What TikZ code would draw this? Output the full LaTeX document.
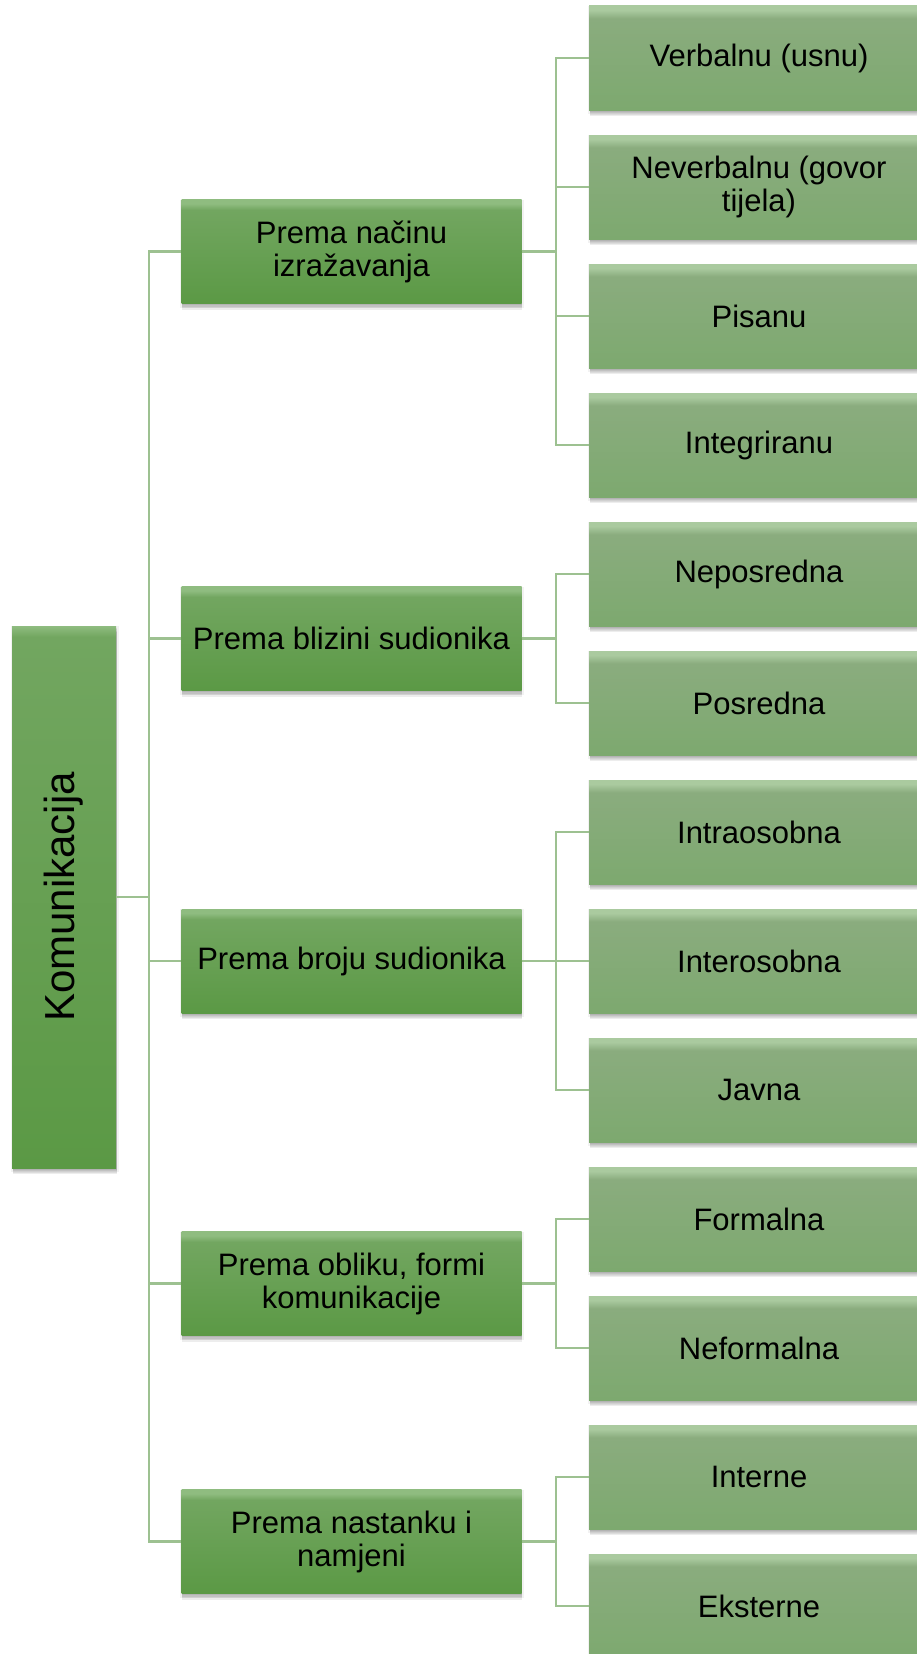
\documentclass[tikz,border=0pt]{standalone}
\usepackage{fontspec}
\setmainfont{Liberation Sans}
\definecolor{lonet}{HTML}{8FBC80}
\definecolor{lonem}{HTML}{72A660}
\definecolor{loneb}{HTML}{5B9945}
\definecolor{ltwot}{HTML}{AACA9F}
\definecolor{ltwom}{HTML}{8AAC7E}
\definecolor{ltwob}{HTML}{7DA96F}
\definecolor{conncol}{HTML}{9DC191}
\pgfdeclareverticalshading{lvlone}{100bp}{color(0bp)=(loneb); color(25bp)=(loneb); color(70bp)=(lonem); color(73bp)=(lonet); color(75bp)=(lonet); color(100bp)=(lonet)}
\pgfdeclareverticalshading{lvlroot}{100bp}{color(0bp)=(loneb); color(25bp)=(loneb); color(74bp)=(lonem); color(75bp)=(lonet); color(100bp)=(lonet)}
\pgfdeclareverticalshading{lvltwo}{100bp}{color(0bp)=(ltwob); color(25bp)=(ltwob); color(69bp)=(ltwom); color(73bp)=(ltwot); color(75bp)=(ltwot); color(100bp)=(ltwot)}
\begin{document}
\begin{tikzpicture}[x=1pt,y=-1pt,
  softshadow/.style={
    preaction={draw=black, line width=4pt, draw opacity=0.05, transform canvas={yshift=-2pt, xshift=0.5pt}},
    preaction={fill=black, fill opacity=0.07, transform canvas={yshift=-6pt, xshift=0.5pt}},
    preaction={fill=black, fill opacity=0.07, transform canvas={yshift=-4.5pt, xshift=0.5pt}},
    preaction={fill=black, fill opacity=0.07, transform canvas={yshift=-3pt, xshift=0.5pt}},
    preaction={fill=black, fill opacity=0.07, transform canvas={yshift=-1.5pt, xshift=0.5pt}}},
  boxbase/.style={rectangle, inner sep=0pt, align=center, text=black,
    font=\fontsize{31}{33}\selectfont, softshadow},
  rootbox/.style={boxbase, shading=lvlroot, minimum width=104, minimum height=542, font=\fontsize{42}{46}\selectfont},
  catbox/.style={boxbase, shading=lvlone, minimum width=340, minimum height=104},
  leafbox/.style={boxbase, shading=lvltwo, minimum width=340, minimum height=104},
  conn/.style={draw=conncol, line width=2.2pt}
]
\useasboundingbox (0,0) rectangle (917,1654);
\fill[white] (0,0) rectangle (917,1654);

\node[rootbox] (root) at (64,897) {\rotatebox{90}{Komunikacija}};

\node[catbox] (c1) at (351.5,251.5) {Prema načinu\\izražavanja};
\node[catbox] (c2) at (351.5,638.5) {Prema blizini sudionika};
\node[catbox] (c3) at (351.5,961) {Prema broju sudionika};
\node[catbox] (c4) at (351.5,1283.5) {Prema obliku, formi\\komunikacije};
\node[catbox] (c5) at (351.5,1541.5) {Prema nastanku i\\namjeni};

\node[leafbox] (l1) at (759,58) {Verbalnu (usnu)};
\node[leafbox] (l2) at (759,187) {Neverbalnu (govor\\tijela)};
\node[leafbox] (l3) at (759,316) {Pisanu};
\node[leafbox] (l4) at (759,445) {Integriranu};
\node[leafbox] (l5) at (759,574) {Neposredna};
\node[leafbox] (l6) at (759,703) {Posredna};
\node[leafbox] (l7) at (759,832) {Intraosobna};
\node[leafbox] (l8) at (759,961) {Interosobna};
\node[leafbox] (l9) at (759,1090) {Javna};
\node[leafbox] (l10) at (759,1219) {Formalna};
\node[leafbox] (l11) at (759,1348) {Neformalna};
\node[leafbox] (l12) at (759,1477) {Interne};
\node[leafbox] (l13) at (759,1606) {Eksterne};

\foreach \c in {c1,c2,c3,c4,c5}
  \draw[conn] (root.east) -- ++(32.5,0) |- (\c.west);

\foreach \c/\l in {c1/l1,c1/l2,c1/l3,c1/l4,c2/l5,c2/l6,c3/l7,c3/l8,c3/l9,c4/l10,c4/l11,c5/l12,c5/l13}
  \draw[conn] (\c.east) -- ++(34,0) |- (\l.west);
\end{tikzpicture}
\end{document}
